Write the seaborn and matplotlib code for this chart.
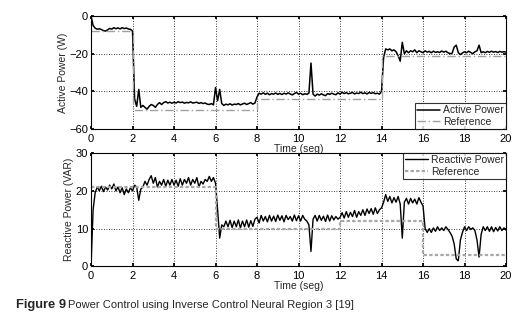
import numpy as np
import pandas as pd
import matplotlib
matplotlib.use("Agg")
import matplotlib.pyplot as plt
import seaborn as sns

time = np.round(np.arange(0, 201) * 0.1, 1)

active_power = [
    0, -5, -6.5, -7, -6.8, -7.2, -7.8, -8, -7.4, -6.6,
    -7, -6.2, -6.8, -6.3, -6.9, -6.2, -6.7, -6.4, -6.9, -7.1,
    -8, -44, -48, -39, -48.5, -47.5, -48.5, -49.5, -48, -47,
    -47.5, -48.5, -47, -46, -47, -46, -45.5, -46.2, -45.8, -46.3,
    -45.8, -46.2, -45.5, -46, -45.7, -46.3, -45.9, -46.1, -45.6, -46.2,
    -46, -45.8, -46.4, -46, -46.5, -46.2, -46.8, -47, -46.5, -47.2,
    -38, -45, -39, -46.5, -47.5, -46.8, -47.2, -46.6, -47.3, -46.8,
    -47, -46.5, -47.2, -46.7, -46.3, -47, -46.5, -46, -46.8, -46.2,
    -43, -41, -41.5, -40.8, -41.6, -41, -41.8, -41.2, -41.5, -40.9,
    -41.6, -41.1, -41.7, -41, -41.5, -40.8, -41.4, -41.9, -41.2, -40.6,
    -41.5, -41, -41.8, -41.3, -41.6, -41, -25, -41.5, -42.5, -41.5,
    -42, -41.3, -41.9, -42.3, -41.2, -41.6, -41, -41.5, -41.8, -40.8,
    -41.5, -40.5, -41.2, -40.7, -41.3, -41, -40.6, -41.4, -40.9, -41.2,
    -40.5, -41.2, -40.8, -41.4, -40.6, -41.1, -40.7, -41.3, -41, -41.5,
    -40, -22, -17.5, -18, -17.5, -18.5, -18, -19, -21, -24,
    -14, -20, -18.5, -19.5, -18.5, -19, -18, -19.5, -18.5, -19,
    -19.5, -18.5, -19.2, -18.8, -19.5, -18.7, -19.3, -19, -19.4, -18.6,
    -19.2, -18.7, -19.5, -20, -19.8, -16.5, -15.5, -19.5, -20.5, -19.6,
    -19, -19.5, -18.7, -19.4, -20, -19, -18.5, -15.5, -19.5, -19,
    -19.5, -18.8, -19.3, -18.7, -19.2, -18.9, -19.4, -18.8, -19.2, -19, -19.1,
]

# reference steps (start time, level)
active_ref_t = [0, 2, 2, 8, 8, 14, 14, 20]
active_ref_v = [-8, -8, -50, -50, -44, -44, -21, -21]

reactive_power = [
    0, 15, 19.5, 21, 20, 21.2, 19.8, 21, 20.2, 21.5,
    20.5, 21.8, 20, 21, 19.5, 20.8, 19, 20.5, 19.5, 20.8,
    20, 21.5, 21, 17.5, 20.5, 21, 22.5, 21.5, 23, 24,
    22, 23.5, 21, 22.5, 21.5, 23, 21.2, 22.8, 21.5, 23,
    21.5, 22.8, 21.2, 23.2, 21.5, 23, 22, 23.5, 21.5, 23,
    22, 23.5, 21, 22.5, 21.8, 23, 22.5, 23.8, 22.5, 23.5,
    22, 15, 7.5, 11, 10.5, 12, 10.5, 12.2, 10.3, 12,
    10.5, 12.3, 10.2, 12, 10.5, 12.3, 10.4, 12.1, 10.6, 12.5,
    13, 11.5, 13.5, 12, 13.2, 11.8, 13.5, 12, 13.3, 11.9,
    13.6, 12.2, 13.4, 11.8, 13.5, 12.4, 13.2, 12, 13.6, 12.1,
    13.4, 12, 13.5, 12.5, 12, 11, 4, 12.5, 13.5, 12,
    13.5, 12.2, 13.3, 11.9, 13.6, 12, 13.4, 12.3, 13.2, 12.5,
    13, 14.2, 12.8, 14.5, 13, 14.3, 13.2, 14.8, 13, 14.5,
    13.5, 15, 13.5, 15.2, 14, 15.3, 13.8, 15.5, 14, 15,
    15.5, 17, 19, 17.2, 18.5, 16.8, 18.2, 17, 18.5, 16.5,
    7.5, 17, 18, 16.5, 18, 16.8, 17.8, 16.5, 18.2, 17,
    16, 10, 9, 10, 9, 10.2, 9.3, 10.5, 9.5, 10.2,
    9.5, 10.5, 9.8, 9, 8, 6, 2, 1.5, 7, 9,
    10.5, 9.5, 10.5, 9.8, 10.2, 9.5, 7, 2.5, 8.5, 10.5,
    9.5, 10.5, 9.3, 10.5, 9.2, 10.3, 9.4, 10.5, 9.5, 10.2, 9.6,
]

reactive_ref_t = [0, 6, 6, 12, 12, 16, 16, 20]
reactive_ref_v = [21, 21, 10, 10, 12, 12, 3, 3]

xticks = [0, 2, 4, 6, 8, 10, 12, 14, 16, 18, 20]
active_yticks = [-60, -40, -20, 0]
reactive_yticks = [0, 10, 20, 30]

sns.set_theme(style="white")
plt.rcParams['font.family'] = ['Liberation Sans', 'DejaVu Sans']

df_a = pd.DataFrame({"t": time, "v": active_power})
df_ar = pd.DataFrame({"t": active_ref_t, "v": active_ref_v})
df_r = pd.DataFrame({"t": time, "v": reactive_power})
df_rr = pd.DataFrame({"t": reactive_ref_t, "v": reactive_ref_v})

fig = plt.figure(figsize=(5.16, 3.22), dpi=100)
ax1 = fig.add_axes([0.1764, 0.5994, 0.8043, 0.351])
ax2 = fig.add_axes([0.1764, 0.1724, 0.8043, 0.3525])

sns.lineplot(data=df_a, x="t", y="v", ax=ax1, color="black", linewidth=1.1,
             label="Active Power", estimator=None, sort=False)
sns.lineplot(data=df_ar, x="t", y="v", ax=ax1, color="#a0a0a0", linewidth=1.0,
             linestyle=(0, (6, 2, 1, 2)), label="Reference", estimator=None, sort=False)

sns.lineplot(data=df_r, x="t", y="v", ax=ax2, color="black", linewidth=1.0,
             label="Reactive Power", estimator=None, sort=False)
sns.lineplot(data=df_rr, x="t", y="v", ax=ax2, color="#a8a8a8", linewidth=1.6,
             linestyle=(0, (1.5, 1)), label="Reference", estimator=None, sort=False)

for ax, yt, ylim, ylab in [(ax1, active_yticks, (-60, 0), "Active Power (W)"),
                           (ax2, reactive_yticks, (0, 30), "Reactive Power (VAR)")]:
    ax.set_xlim(0, 20)
    ax.set_ylim(*ylim)
    ax.set_xticks(xticks)
    ax.set_yticks(yt)
    ax.tick_params(axis="both", labelsize=8, length=2.5, direction="in",
                   bottom=True, left=True, top=True, right=True, colors="black")
    ax.tick_params(axis="x", pad=3.5)
    ax.tick_params(axis="y", pad=2)
    ax.grid(True, color="black", linestyle=(0, (1, 2)), linewidth=0.6)
    for s in ax.spines.values():
        s.set_color("black")
        s.set_linewidth(0.8)
    ax.set_xlabel("Time (seg)", fontsize=7.5, labelpad=0)
    ax.set_ylabel(ylab, fontsize=7.5, labelpad=1)

leg1 = ax1.legend(loc="lower right", fontsize=7.5, frameon=True, fancybox=False,
                  borderpad=0.2, labelspacing=0.15, handlelength=2.2, handletextpad=0.3,
                  borderaxespad=0.0)
leg1.get_frame().set_edgecolor("black")
leg1.get_frame().set_linewidth(0.8)
leg2 = ax2.legend(loc="upper right", fontsize=7.5, frameon=True, fancybox=False,
                  borderpad=0.2, labelspacing=0.15, handlelength=2.2, handletextpad=0.3,
                  borderaxespad=0.0)
leg2.get_frame().set_edgecolor("black")
leg2.get_frame().set_linewidth(0.8)

fig.text(16 / 516, 1 - 305 / 322, "Figure 9", fontsize=9.3, fontweight="bold",
         va="center", ha="left")
fig.text(68 / 516, 1 - 305 / 322, "Power Control using Inverse Control Neural Region 3 [19]",
         fontsize=8, va="center", ha="left")

fig.savefig("out.png", dpi=100)
